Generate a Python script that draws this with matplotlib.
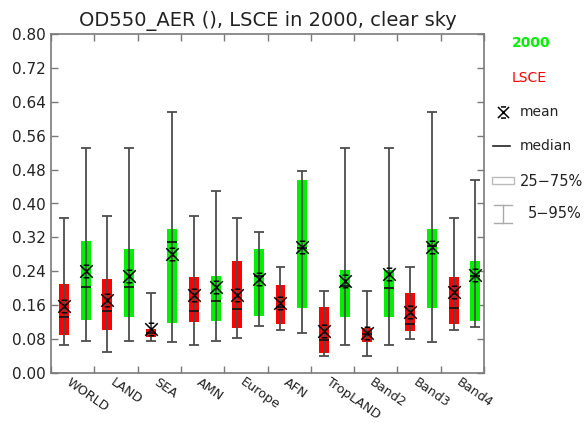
import matplotlib
matplotlib.use("Agg")
import matplotlib.pyplot as plt
import numpy as np
from matplotlib.path import Path

regions = ["WORLD", "LAND", "SEA", "AMN", "Europe", "AFN",
           "TropLAND", "Band2", "Band3", "Band4"]

# LSCE model, percentiles of OD550
lsce_p05 = [0.066, 0.049, 0.076, 0.066, 0.083, 0.101, 0.041, 0.041, 0.080, 0.101]
lsce_p25 = [0.090, 0.101, 0.086, 0.121, 0.107, 0.115, 0.048, 0.074, 0.100, 0.115]
lsce_med = [0.131, 0.147, 0.095, 0.146, 0.152, 0.155, 0.078, 0.092, 0.116, 0.153]
lsce_mean = [0.158, 0.172, 0.103, 0.184, 0.184, 0.166, 0.098, 0.094, 0.145, 0.192]
lsce_p75 = [0.209, 0.222, 0.105, 0.227, 0.264, 0.208, 0.156, 0.107, 0.188, 0.227]
lsce_p95 = [0.365, 0.371, 0.189, 0.371, 0.365, 0.251, 0.193, 0.193, 0.251, 0.365]

# 2000 reference
y2000_p05 = [0.076, 0.076, 0.072, 0.076, 0.112, 0.095, 0.066, 0.066, 0.072, 0.109]
y2000_p25 = [0.125, 0.131, 0.117, 0.123, 0.135, 0.153, 0.131, 0.131, 0.153, 0.123]
y2000_med = [0.202, 0.202, 0.310, 0.170, 0.228, 0.295, 0.205, 0.201, 0.300, 0.228]
y2000_mean = [0.241, 0.230, 0.282, 0.204, 0.223, 0.298, 0.218, 0.234, 0.298, 0.231]
y2000_p75 = [0.312, 0.292, 0.339, 0.229, 0.292, 0.455, 0.243, 0.243, 0.339, 0.264]
y2000_p95 = [0.531, 0.531, 0.616, 0.430, 0.333, 0.476, 0.531, 0.531, 0.616, 0.455]

yticks = [0.00, 0.08, 0.16, 0.24, 0.32, 0.40, 0.48, 0.56, 0.64, 0.72, 0.80]

GREEN = "#00f000"
RED = "#ff0000"
AXC = "#7a7a7a"
TXT = "#222222"

# asterisk-like mean symbol: X with short bars top and bottom
star = Path([(-1, -1), (1, 1), (-1, 1), (1, -1),
             (-0.45, 1), (0.45, 1), (-0.45, -1), (0.45, -1),
             (0, -0.3), (0, 0.3)],
            [Path.MOVETO, Path.LINETO] * 5)

W, H = 587, 423
fig = plt.figure(figsize=(W / 100, H / 100), dpi=100)
ax = fig.add_axes([51 / W, 1 - 373 / H, 433 / W, 339 / H])

x = np.arange(len(regions))
bw = 0.23


def draw_boxes(pos, p05, p25, med, mean, p75, p95, color):
    p25 = np.array(p25)
    ax.bar(pos, np.array(p75) - p25, bottom=p25, width=bw, color=color,
           edgecolor="none", zorder=2)
    ax.vlines(pos, p05, p95, color="#4d4d4d", lw=1.3, zorder=3)
    ax.hlines(p05, pos - bw / 2, pos + bw / 2, color="#4d4d4d", lw=1.3, zorder=3)
    ax.hlines(p95, pos - bw / 2, pos + bw / 2, color="#4d4d4d", lw=1.3, zorder=3)
    ax.hlines(med, pos - bw / 2, pos + bw / 2, color="#111111", lw=1.2, zorder=4)
    ax.plot(pos, mean, ls="none", marker=star, ms=9, mfc="none",
            mec="black", mew=1.1, zorder=5)


draw_boxes(x + 0.3, lsce_p05, lsce_p25, lsce_med, lsce_mean, lsce_p75, lsce_p95, RED)
draw_boxes(x + 0.8, y2000_p05, y2000_p25, y2000_med, y2000_mean, y2000_p75, y2000_p95, GREEN)

ax.set_xlim(0, len(regions))
ax.set_ylim(0, 0.8)
ax.set_yticks(yticks)
ax.set_yticklabels(["%.2f" % v for v in yticks], fontsize=11, color=TXT)
ax.set_xticks(np.arange(len(regions) + 1))
ax.set_xticklabels([])
ax.set_xticks(x + 0.48, regions, minor=True)
ax.tick_params(axis="x", which="minor", length=0, pad=2)
for lbl in ax.get_xticklabels(minor=True):
    lbl.set_rotation(-35)
    lbl.set_ha("left")
    lbl.set_rotation_mode("anchor")
    lbl.set_fontsize(9.2)
    lbl.set_color(TXT)
ax.tick_params(which="major", direction="in", length=5, color=AXC,
               top=True, right=True, width=1)
for s in ax.spines.values():
    s.set_color(AXC)
    s.set_linewidth(1.2)

ax.set_title("OD550_AER (), LSCE in 2000, clear sky", fontsize=14,
             color=TXT, pad=6)

# legend panel on the right, in pixel coordinates
lg = fig.add_axes([0, 0, 1, 1], facecolor="none")
lg.set_xlim(0, W)
lg.set_ylim(H, 0)
lg.axis("off")
lg.text(512, 43, "2000", color=GREEN, fontsize=10, va="center", fontweight="bold")
lg.text(512, 78, "LSCE", color=RED, fontsize=10, va="center")
lg.plot([503], [112], marker=star, ms=8, mfc="none", mec="black", mew=1.1)
lg.text(520, 112, "mean", color=TXT, fontsize=10, va="center")
lg.plot([493, 510], [146, 146], color="#222222", lw=1.2)
lg.text(520, 146, "median", color=TXT, fontsize=10, va="center")
lg.add_patch(plt.Rectangle((492, 177), 22, 7, fill=False, ec="#bbbbbb", lw=1))
lg.text(520, 181, "25\u221275%", color=TXT, fontsize=10.5, va="center")
lg.plot([503, 503], [205, 223], color="#aaaaaa", lw=1)
lg.plot([494, 512], [205, 205], color="#aaaaaa", lw=1)
lg.plot([494, 512], [223, 223], color="#aaaaaa", lw=1)
lg.text(528, 214, "5\u221295%", color=TXT, fontsize=10.5, va="center")

fig.savefig("out.png", dpi=100)
